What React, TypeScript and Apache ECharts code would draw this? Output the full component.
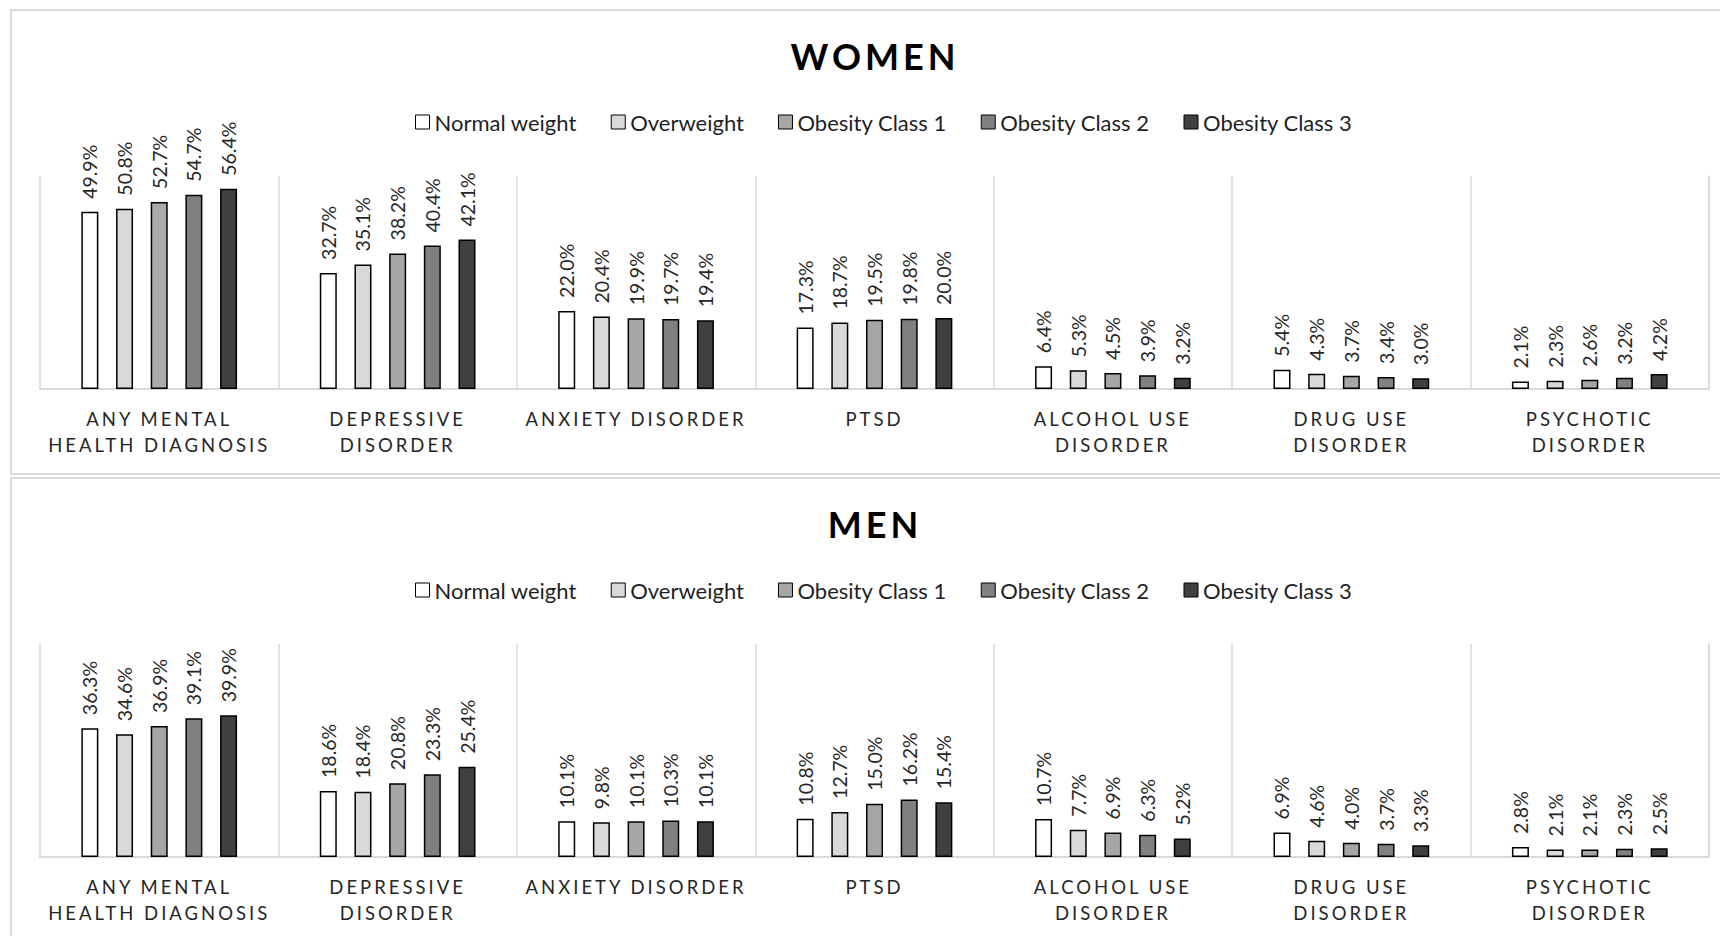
import React, { useEffect, useRef } from "react";
import * as echarts from "echarts";

// ---------- data ----------
const categories = [
  "ANY MENTAL\nHEALTH DIAGNOSIS",
  "DEPRESSIVE\nDISORDER",
  "ANXIETY DISORDER",
  "PTSD",
  "ALCOHOL USE\nDISORDER",
  "DRUG USE\nDISORDER",
  "PSYCHOTIC\nDISORDER",
];

const seriesNames = [
  "Normal weight",
  "Overweight",
  "Obesity Class 1",
  "Obesity Class 2",
  "Obesity Class 3",
];

const womenNormalWeight = [49.9, 32.7, 22.0, 17.3, 6.4, 5.4, 2.1];
const womenOverweight = [50.8, 35.1, 20.4, 18.7, 5.3, 4.3, 2.3];
const womenObesity1 = [52.7, 38.2, 19.9, 19.5, 4.5, 3.7, 2.6];
const womenObesity2 = [54.7, 40.4, 19.7, 19.8, 3.9, 3.4, 3.2];
const womenObesity3 = [56.4, 42.1, 19.4, 20.0, 3.2, 3.0, 4.2];

const menNormalWeight = [36.3, 18.6, 10.1, 10.8, 10.7, 6.9, 2.8];
const menOverweight = [34.6, 18.4, 9.8, 12.7, 7.7, 4.6, 2.1];
const menObesity1 = [36.9, 20.8, 10.1, 15.0, 6.9, 4.0, 2.1];
const menObesity2 = [39.1, 23.3, 10.3, 16.2, 6.3, 3.7, 2.3];
const menObesity3 = [39.9, 25.4, 10.1, 15.4, 5.2, 3.3, 2.5];

const panelTitles = ["WOMEN", "MEN"];

// ---------- styles ----------
const barColors = ["#ffffff", "#d9d9d9", "#a6a6a6", "#808080", "#404040"];
const FONT = "Lato";
const CAT_COLOR = "#262627";
const TITLE_COLOR = "#000001";
const PANEL_OFFSET = 468;
const CHART_W = 1750;

export default function App() {
  const ref = useRef<HTMLDivElement>(null);

  useEffect(() => {
    if (!ref.current) return;
    const chart = echarts.init(ref.current, undefined, { renderer: "svg" });

    const groups = [
      [womenNormalWeight, womenOverweight, womenObesity1, womenObesity2, womenObesity3],
      [menNormalWeight, menOverweight, menObesity1, menObesity2, menObesity3],
    ];

    const grids: any[] = [];
    const xAxes: any[] = [];
    const yAxes: any[] = [];
    const titles: any[] = [];
    const legends: any[] = [];
    const series: any[] = [];
    const graphics: any[] = [];

    groups.forEach((g, gi) => {
      const off = gi * PANEL_OFFSET;
      graphics.push({
        type: "rect",
        silent: true,
        shape: { x: 11, y: 10 + off, width: 1800, height: gi === 0 ? 464 : 520 },
        style: { fill: "none", stroke: "#d9d9d9", lineWidth: 2 },
      });
      grids.push({ left: 40, right: CHART_W - 1709, top: 176 + off, height: 213 });
      xAxes.push({
        type: "category",
        gridIndex: gi,
        data: categories,
        axisLine: { show: true, lineStyle: { color: "#d9d9d9", width: 2 } },
        axisTick: { show: false },
        splitLine: { show: true, lineStyle: { color: "#d9d9d9", width: 1.5 } },
        axisLabel: {
          interval: 0,
          margin: 17,
          fontFamily: FONT,
          fontSize: 18.5,
          lineHeight: 26,
          color: CAT_COLOR,
        },
      });
      yAxes.push({
        type: "value",
        gridIndex: gi,
        min: 0,
        max: 60,
        position: "right",
        axisLine: { show: true, lineStyle: { color: "#d9d9d9", width: 1.5 } },
        axisTick: { show: false },
        axisLabel: { show: false },
        splitLine: { show: false },
      });
      titles.push({
        text: panelTitles[gi],
        left: "center",
        top: 38 + off,
        padding: 0,
        textStyle: {
          fontFamily: FONT,
          fontWeight: "bold",
          fontSize: 36,
          lineHeight: 36,
          color: TITLE_COLOR,
        },
      });
      legends.push({
        data: seriesNames,
        left: 415,
        top: 111 + off,
        padding: 0,
        itemGap: 34,
        itemWidth: 14,
        itemHeight: 14,
        icon: "rect",
        itemStyle: { borderColor: "#000", borderWidth: 1 },
        textStyle: { fontFamily: FONT, fontSize: 22, lineHeight: 22, color: "#1f1f1f" },
      });
      g.forEach((vals, si) => {
        series.push({
          type: "bar",
          name: seriesNames[si],
          xAxisIndex: gi,
          yAxisIndex: gi,
          barWidth: 17,
          barGap: "104%",
          data: vals.map((v, ci) =>
            gi === 0 && si === 2 && ci === 0
              ? { value: v, itemStyle: { color: "#aeaaaa" } }
              : v
          ),
          itemStyle: { color: barColors[si], borderColor: "#000", borderWidth: 1.5 },
          label: {
            show: true,
            position: "top",
            rotate: 90,
            align: "left",
            verticalAlign: "middle",
            distance: 13,
            fontFamily: FONT,
            fontSize: 19.5,
            color: "#262626",
            formatter: (p: any) => Number(p.value).toFixed(1) + "%",
          },
        });
      });
    });

    chart.setOption({
      animation: false,
      backgroundColor: "#ffffff",
      title: titles,
      legend: legends,
      grid: grids,
      xAxis: xAxes,
      yAxis: yAxes,
      series,
      graphic: graphics,
    });

    return () => chart.dispose();
  }, []);

  return (
    <div
      style={{
        position: "fixed",
        left: 0,
        top: 0,
        width: 1720,
        height: 936,
        overflow: "hidden",
        background: "#fff",
      }}
    >
      <style>{`
        .chartbox text[fill="${CAT_COLOR}"] { letter-spacing: 3px; }
        .chartbox text[fill="${TITLE_COLOR}"] { letter-spacing: 4px; }
      `}</style>
      <div className="chartbox" ref={ref} style={{ width: CHART_W, height: 936 }} />
    </div>
  );
}
